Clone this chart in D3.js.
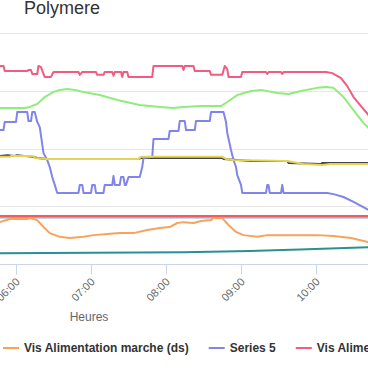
<!DOCTYPE html>
<html>
<head>
<meta charset="utf-8">
<script src="https://cdn.jsdelivr.net/npm/d3@7"></script>
<style>
body{margin:0;padding:0;background:#fff;overflow:hidden}
svg{display:block;font-family:"Liberation Sans",Arial,Helvetica,sans-serif}
</style>
</head>
<body>
<div id="chart"></div>
<script>
var width = 368
var height = 373

var title = "Polymere"
var axisTitle = "Heures"
var hourTicks = ["06:00","07:00","08:00","09:00","10:00"]
var gridValues = [20,40,60,80,100]

// series 1 (light blue, mostly under the red line)
var serieBleuClair = [["05:47",16.1],["07:00",16.1],["08:30",16.1],["10:42",16.1]]
// series 2
var serieNoire = [["05:47",37.4],["05:53",37.7],["05:59",37.4],["06:01",37.7],["06:14",37.1],["06:17",36.7],["06:25",36.4],["07:38",36.4],["07:40",36.7],["08:45",36.7],["08:46",36.4],["09:08",35.7],["09:37",35.7],["09:38",35.0],["10:04",34.6],["10:05",35.0],["10:42",35.0]]
// series 3
var serieVerte = [["05:47",54.0],["06:07",54.0],["06:11",54.4],["06:17",55.4],["06:23",57.8],["06:30",59.6],["06:35",60.3],["06:41",60.6],["06:47",60.3],["06:54",59.6],["07:07",58.5],["07:21",56.8],["07:39",55.1],["07:55",54.4],["08:06",54.0],["08:14",54.4],["08:28",54.7],["08:44",54.7],["08:49",56.1],["08:57",58.5],["09:08",59.9],["09:16",60.3],["09:29",59.2],["09:38",58.9],["09:48",59.9],["10:01",61.0],["10:08",61.3],["10:14",61.0],["10:22",57.8],["10:30",53.3],["10:38",48.8],["10:42",47.1]]
// series 4 : Vis Alimentation marche (ds)
var visAlimMarche = [["05:47",14.5],["05:55",15.6],["06:09",15.6],["06:11",15.9],["06:17",15.2],["06:22",12.8],["06:27",10.7],["06:35",9.4],["06:43",9.0],["06:54",9.4],["07:02",10.0],["07:13",10.4],["07:23",10.7],["07:34",10.7],["07:45",11.8],["07:55",12.5],["08:03",12.8],["08:09",14.2],["08:14",14.5],["08:22",14.2],["08:28",14.9],["08:36",15.2],["08:38",15.9],["08:45",15.9],["08:50",13.5],["08:56",11.1],["09:02",10.0],["09:13",9.4],["09:21",10.0],["10:01",10.0],["10:14",9.7],["10:28",9.0],["10:42",7.6]]
// series 5
var series5 = [["05:47",46.4],["05:50",46.4],["05:51",49.2],["06:00",49.2],["06:01",52.6],["06:09",52.6],["06:10",49.5],["06:12",49.5],["06:13",52.6],["06:15",52.6],["06:17",49.2],["06:19",47.4],["06:22",38.4],["06:25",36.0],["06:27",33.6],["06:29",30.1],["06:31",27.4],["06:33",24.6],["06:50",24.6],["06:51",27.4],["06:53",27.4],["06:54",24.6],["07:00",24.6],["07:01",27.4],["07:03",27.4],["07:04",24.6],["07:10",24.6],["07:11",27.4],["07:17",27.4],["07:18",30.5],["07:19",27.4],["07:23",27.4],["07:24",30.1],["07:26",30.1],["07:27",27.4],["07:28",27.4],["07:30",30.1],["07:39",30.1],["07:41",33.6],["07:42",36.7],["07:49",37.1],["07:50",43.3],["08:02",43.3],["08:03",46.1],["08:10",46.1],["08:11",49.5],["08:15",49.5],["08:16",46.4],["08:23",46.4],["08:24",49.5],["08:35",49.5],["08:36",52.6],["08:46",52.6],["08:48",49.2],["08:49",45.4],["08:52",39.5],["08:54",36.0],["08:56",33.6],["08:57",30.8],["09:00",27.4],["09:01",24.6],["09:20",24.6],["09:21",27.4],["09:22",27.4],["09:23",24.6],["09:32",24.6],["09:33",27.4],["09:34",24.6],["10:09",24.6],["10:14",24.2],["10:22",23.2],["10:30",21.5],["10:36",20.1],["10:42",18.7]]
// series 6 : Vis Alime...
var visAlim = [["05:47",68.6],["05:50",68.6],["05:51",66.8],["06:09",66.8],["06:10",67.2],["06:12",67.2],["06:13",65.8],["06:17",65.8],["06:18",68.6],["06:20",68.2],["06:22",65.8],["06:23",64.8],["06:28",64.8],["06:30",66.5],["06:50",66.5],["06:51",65.5],["06:53",66.5],["07:04",66.5],["07:05",65.5],["07:10",65.5],["07:11",66.5],["07:17",66.5],["07:18",65.2],["07:19",66.5],["07:24",66.5],["07:25",64.8],["07:26",66.5],["07:29",66.5],["07:30",64.8],["07:49",64.8],["07:50",68.6],["08:13",68.6],["08:14",67.2],["08:15",68.6],["08:22",68.6],["08:23",66.8],["08:35",66.8],["08:36",65.5],["08:45",65.5],["08:47",68.6],["08:49",67.5],["08:50",64.8],["09:00",64.8],["09:01",66.5],["09:20",66.5],["09:21",65.8],["09:22",66.5],["09:32",66.5],["09:33",65.8],["09:34",66.5],["10:08",66.5],["10:13",66.1],["10:20",64.4],["10:25",61.6],["10:30",57.8],["10:36",54.7],["10:42",51.6]]
// series 7
var serieJaune = [["05:47",37.1],["05:55",37.1],["05:56",37.4],["06:14",37.4],["06:15",36.7],["06:25",36.4],["07:38",36.4],["07:40",37.1],["08:45",37.1],["08:48",36.4],["08:54",36.0],["09:37",35.7],["09:50",34.6],["10:05",34.3],["10:11",34.6],["10:42",34.6]]
// series 8
var serieSarcelle = [["05:47",3.7],["07:01",3.9],["08:14",4.1],["09:07",4.5],["09:47",5.0],["10:42",5.8]]
// series 9
var serieRouge = [["05:47",16.6],["07:00",16.6],["08:30",16.6],["10:42",16.6]]

var seriesList = [
	{name:"Series 1",data:serieBleuClair,color:"#7cb5ec"},
	{name:"Series 2",data:serieNoire,color:"#434348"},
	{name:"Series 3",data:serieVerte,color:"#90ed7d"},
	{name:"Vis Alimentation marche (ds)",data:visAlimMarche,color:"#f7a35c"},
	{name:"Series 5",data:series5,color:"#8085e9"},
	{name:"Vis Alimentation",data:visAlim,color:"#f15c80"},
	{name:"Series 7",data:serieJaune,color:"#e4d354"},
	{name:"Series 8",data:serieSarcelle,color:"#2b908f"},
	{name:"Series 9",data:serieRouge,color:"#f45b5b"}
]
var legendItems = [3,4,5]

var parseTime = d3.timeParse("%H:%M")

var xScale = d3.scaleTime()
	.domain([parseTime("06:00"),parseTime("10:00")])
	.range([16,316])
var yScale = d3.scaleLinear().domain([0,100]).range([264,-24.75])

var svg = d3.select("#chart")
	.append("svg")
	.attr("width",width)
	.attr("height",height)

svg.append("defs").append("clipPath").attr("id","plotClip")
	.append("rect").attr("x",0).attr("y",20).attr("width",width).attr("height",244)

svg.append("g")
	.selectAll("line")
	.data(gridValues)
	.enter()
	.append("line")
	.attr("x1",0).attr("x2",width)
	.attr("y1",function(d){return Math.round(yScale(d))+0.5})
	.attr("y2",function(d){return Math.round(yScale(d))+0.5})
	.attr("stroke","#e6e6e6")

var xAxis = d3.axisBottom().scale(xScale)
	.tickValues(hourTicks.map(parseTime))
	.tickSize(10)
	.tickFormat(d3.timeFormat("%H:%M"))

var xG = svg.append("g")
	.attr("transform","translate(0,"+(Math.round(yScale(0))+0.5)+")")
	.call(xAxis)
xG.select(".domain").attr("d","M0,0H"+width).attr("stroke","#ccd6eb")
xG.selectAll(".tick line").attr("stroke","#ccd6eb")
xG.selectAll(".tick text")
	.attr("fill","#666666")
	.style("font-size","11px")
	.attr("text-anchor","end")
	.attr("y",0).attr("dy",0)
	.attr("transform","translate(4,18) rotate(-45)")

var line = d3.line()
	.x(function(d){return xScale(parseTime(d[0]))})
	.y(function(d){return yScale(d[1])})

svg.append("g").attr("clip-path","url(#plotClip)")
	.selectAll("path")
	.data(seriesList)
	.enter()
	.append("path")
	.attr("d",function(d){return line(d.data)})
	.attr("fill","none")
	.attr("stroke",function(d){return d.color})
	.attr("stroke-width",2)
	.attr("stroke-linejoin","round")
	.attr("stroke-linecap","round")

svg.append("text").text(title)
	.attr("x",24).attr("y",14)
	.attr("fill","#333333")
	.style("font-size","18px")

svg.append("text").text(axisTitle)
	.attr("x",89).attr("y",321)
	.attr("text-anchor","middle")
	.attr("fill","#666666")
	.style("font-size","12px")

var legend = svg.append("g")
var lx = 3
for(var i in legendItems){
	var s = seriesList[legendItems[i]]
	legend.append("line")
		.attr("x1",lx).attr("x2",lx+16)
		.attr("y1",348).attr("y2",348)
		.attr("stroke",s.color).attr("stroke-width",2)
	var t = legend.append("text").text(s.name)
		.attr("x",lx+21).attr("y",352)
		.attr("fill","#333333")
		.style("font-size","12px")
		.style("font-weight","bold")
	lx = lx+21+t.node().getComputedTextLength()+20
}
</script>
</body>
</html>
